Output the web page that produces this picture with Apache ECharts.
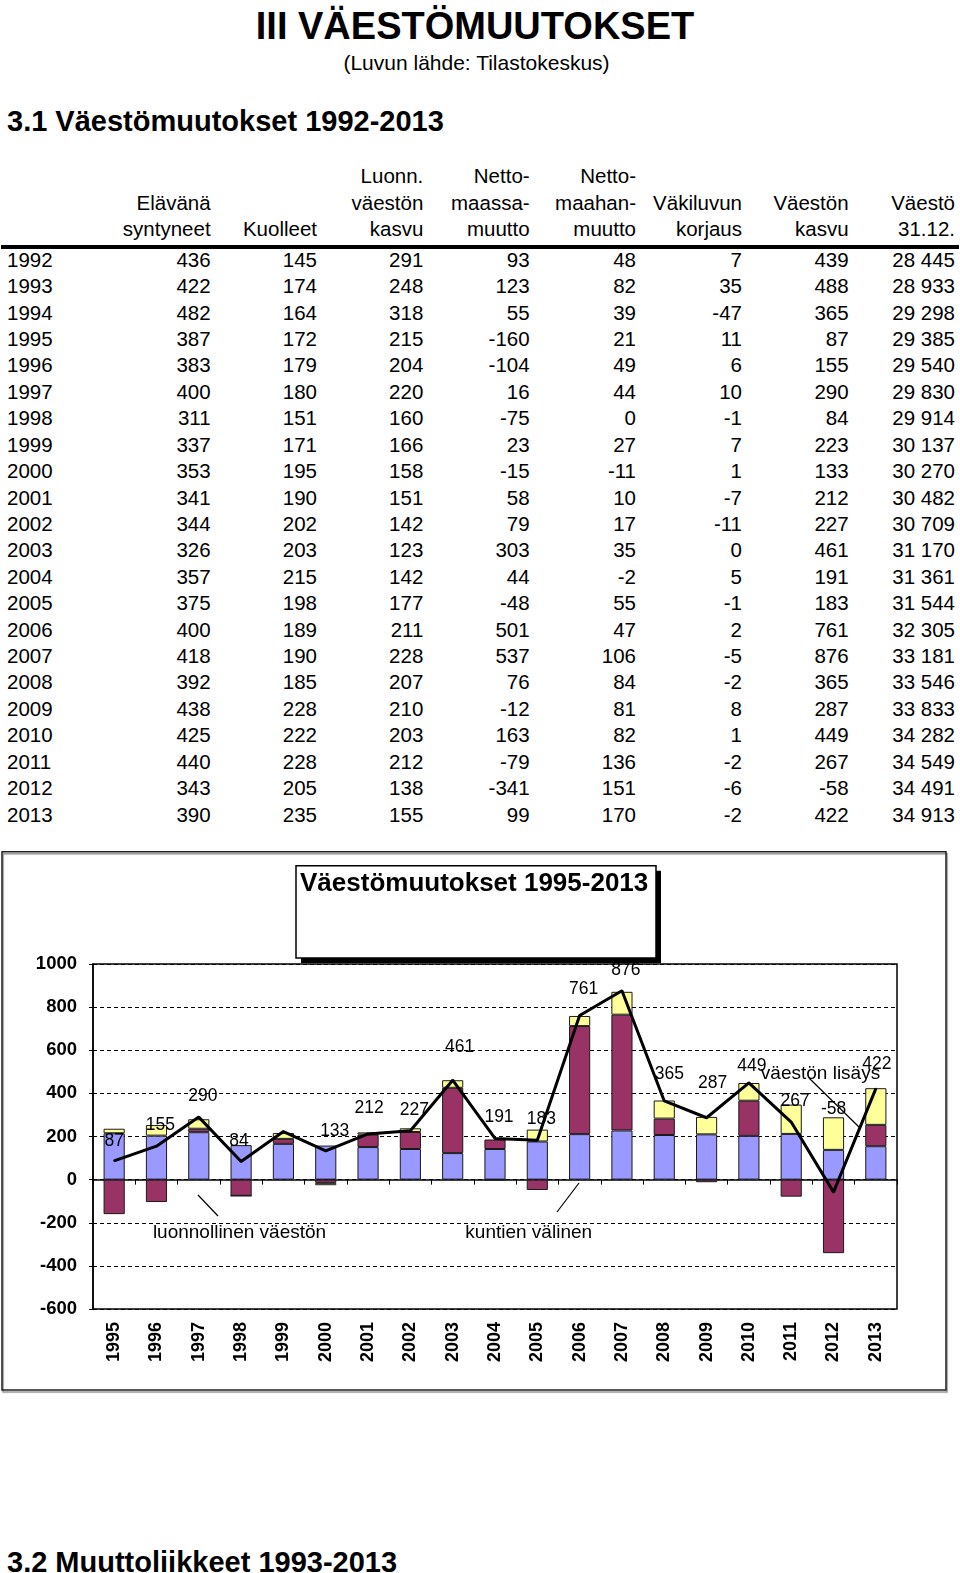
<!DOCTYPE html>
<html><head><meta charset="utf-8">
<script src="https://cdn.jsdelivr.net/npm/echarts@6/dist/echarts.min.js"></script>
<style>
html,body{margin:0;padding:0;background:#fff;}
body{position:relative;width:960px;height:1573px;overflow:hidden;font-family:"Liberation Sans",Arial,sans-serif;color:#000;}
.t{position:absolute;white-space:nowrap;line-height:1;}
</style></head><body>
<div id="chart" style="position:absolute;left:0;top:840px;width:960px;height:560px;"></div>
<script>
// ---- data ----
const years = [1992,1993,1994,1995,1996,1997,1998,1999,2000,2001,2002,2003,2004,2005,2006,2007,2008,2009,2010,2011,2012,2013];
const births = [436,422,482,387,383,400,311,337,353,341,344,326,357,375,400,418,392,438,425,440,343,390];
const deaths = [145,174,164,172,179,180,151,171,195,190,202,203,215,198,189,190,185,228,222,228,205,235];
const naturalGrowth = [291,248,318,215,204,220,160,166,158,151,142,123,142,177,211,228,207,210,203,212,138,155];
const netDomestic = [93,123,55,-160,-104,16,-75,23,-15,58,79,303,44,-48,501,537,76,-12,163,-79,-341,99];
const netImmigration = [48,82,39,21,49,44,0,27,-11,10,17,35,-2,55,47,106,84,81,82,136,151,170];
const correction = [7,35,-47,11,6,10,-1,7,1,-7,-11,0,5,-1,2,-5,-2,8,1,-2,-6,-2];
const popGrowth = [439,488,365,87,155,290,84,223,133,212,227,461,191,183,761,876,365,287,449,267,-58,422];
const population = [28445,28933,29298,29385,29540,29830,29914,30137,30270,30482,30709,31170,31361,31544,32305,33181,33546,33833,34282,34549,34491,34913];
const headers = [
  ["", "Elävänä", "syntyneet"],
  ["", "", "Kuolleet"],
  ["Luonn.", "väestön", "kasvu"],
  ["Netto-", "maassa-", "muutto"],
  ["Netto-", "maahan-", "muutto"],
  ["", "Väkiluvun", "korjaus"],
  ["", "Väestön", "kasvu"],
  ["", "Väestö", "31.12."]
];
const chartStart = 1995;
const yTicks = {min:-600, max:1000, step:200};

// ---- page text ----
function put(text, x, yc, size, align, weight){
  const d = document.createElement('div');
  d.className = 't';
  d.textContent = text;
  d.style.fontSize = size + 'px';
  d.style.top = (yc - 0.49*size) + 'px';
  if (weight) d.style.fontWeight = weight;
  if (align === 'right') d.style.right = (960 - x) + 'px';
  else if (align === 'center') { d.style.left = x + 'px'; d.style.transform = 'translateX(-50%)'; }
  else d.style.left = x + 'px';
  document.body.appendChild(d);
}
put('III VÄESTÖMUUTOKSET', 475, 25.5, 38, 'center', 'bold');
put('(Luvun lähde: Tilastokeskus)', 476.5, 62, 21, 'center');
put('3.1 Väestömuutokset 1992-2013', 7, 121.5, 29, 'left', 'bold');
put('3.2 Muuttoliikkeet 1993-2013', 7, 1562, 29, 'left', 'bold');

const colRight = [210.6, 317, 423.3, 529.6, 636, 742, 848.6, 955];
const hdrY = [176.5, 202.6, 228.7];
headers.forEach((h, c) => h.forEach((s, r) => { if (s) put(s, colRight[c], hdrY[r], 20.5, 'right'); }));
const rule = document.createElement('div');
rule.style.cssText = 'position:absolute;left:1px;top:244.5px;width:958px;height:4px;background:#000;';
document.body.appendChild(rule);
const fmt = v => String(v).replace(/\B(?=(\d{3})+(?!\d))/g, ' ');
const cols = [births, deaths, naturalGrowth, netDomestic, netImmigration, correction, popGrowth, population];
years.forEach((y, i) => {
  const yc = 259.8 + i * 26.42;
  put(String(y), 7, yc, 20.5, 'left');
  cols.forEach((arr, c) => put(fmt(arr[i]), colRight[c], yc, 20.5, 'right'));
});

// ---- chart ----
const si = years.indexOf(chartStart);
const cats = years.slice(si).map(String);
const blue = naturalGrowth.slice(si);
const purple = netDomestic.slice(si);
const yellow = netImmigration.slice(si);
const total = popGrowth.slice(si);

// label nudges (style only)
const nudge = {'1995':[0,-8],'1998':[-2,-8],'1999':null,'2000':[9,-8],'2001':[1,-14],'2003':[7,-21],'2006':[4,-14],'2008':[5,-15],'2009':[6,-23],'2010':[3,-5],'2012':[0,-71],'2013':[1,-12]};
const lineData = total.map((v, i) => {
  const k = cats[i];
  const n = (k in nudge) ? nudge[k] : [4,-9];
  if (n === null) return {value: v, label: {show: false}};
  return {value: v, label: {offset: n}};
});

const FF = '"Liberation Sans", Arial, sans-serif';
const chart = echarts.init(document.getElementById('chart'), null, {renderer: 'canvas'});
const barBase = {type: 'bar', stack: 'total', barWidth: '50%', xAxisIndex: 0};
chart.setOption({
  animation: false,
  textStyle: {fontFamily: FF},
  grid: {left: 93, top: 124, width: 804, height: 345, show: true, borderColor: '#000', borderWidth: 1.5, backgroundColor: 'transparent'},
  xAxis: [
    {type: 'category', data: cats, position: 'bottom',
      axisLine: {show: false, onZero: false}, axisTick: {show: false},
      axisLabel: {rotate: 90, fontSize: 18, fontWeight: 'bold', color: '#000', margin: 13, fontFamily: FF}},
    {type: 'category', data: cats, position: 'top',
      axisLine: {show: true, onZero: true, lineStyle: {color: '#000', width: 1.5}},
      axisTick: {show: true, inside: true, length: 5, lineStyle: {color: '#000', width: 1}},
      axisLabel: {show: false}}
  ],
  yAxis: {type: 'value', min: yTicks.min, max: yTicks.max, interval: yTicks.step,
    axisLine: {show: true, lineStyle: {color: '#000', width: 1.5}},
    axisTick: {show: true, length: 4, lineStyle: {color: '#000'}},
    axisLabel: {fontSize: 18.5, fontWeight: 'bold', color: '#000', margin: 16, fontFamily: FF, formatter: v => String(v)},
    splitLine: {show: true, lineStyle: {type: [4, 3], color: '#000', width: 1}}},
  series: [
    Object.assign({}, barBase, {name: 'luonnollinen väestönkasvu', data: blue, itemStyle: {color: '#9999FF', borderColor: '#1a1a1a', borderWidth: 1}}),
    Object.assign({}, barBase, {name: 'kuntien välinen', data: purple, itemStyle: {color: '#993366', borderColor: '#1a1a1a', borderWidth: 1}}),
    Object.assign({}, barBase, {name: 'nettomaahanmuutto', data: yellow, itemStyle: {color: '#FFFF99', borderColor: '#1a1a1a', borderWidth: 1}}),
    {type: 'line', name: 'väestön lisäys', data: lineData, xAxisIndex: 0, z: 5,
      symbol: 'circle', symbolSize: 2, showSymbol: true,
      itemStyle: {color: '#000'}, lineStyle: {color: '#000', width: 3},
      label: {show: true, position: 'top', distance: 2, fontSize: 17.5, color: '#000', fontFamily: FF}}
  ],
  graphic: [
    {type: 'rect', z: -5, shape: {x: 2, y: 11.7, width: 944, height: 538.3},
      style: {fill: 'none', stroke: '#222', lineWidth: 1.5, shadowColor: 'rgba(0,0,0,0.45)', shadowOffsetX: 1, shadowOffsetY: 2, shadowBlur: 1}},
    {type: 'rect', z: 9, shape: {x: 301, y: 30.7, width: 360, height: 92.3}, style: {fill: '#000', stroke: 'none'}},
    {type: 'rect', z: 10, shape: {x: 296, y: 25.7, width: 360, height: 92.3},
      style: {fill: '#fff', stroke: '#000', lineWidth: 1.5}},
    {type: 'text', z: 11, style: {text: 'Väestömuutokset 1995-2013', x: 300, y: 44, font: 'bold 26px ' + FF, fill: '#000', textVerticalAlign: 'middle'}},
    {type: 'text', z: 20, style: {text: 'luonnollinen väestön', x: 239.5, y: 393, font: '19px ' + FF, fill: '#000', textAlign: 'center', textVerticalAlign: 'middle'}},
    {type: 'line', z: 20, shape: {x1: 198, y1: 355, x2: 218, y2: 376}, style: {stroke: '#000', lineWidth: 1.2}},
    {type: 'text', z: 20, style: {text: 'kuntien välinen', x: 528.7, y: 393, font: '19px ' + FF, fill: '#000', textAlign: 'center', textVerticalAlign: 'middle'}},
    {type: 'line', z: 20, shape: {x1: 579, y1: 343, x2: 557, y2: 372}, style: {stroke: '#000', lineWidth: 1.2}},
    {type: 'text', z: 20, style: {text: 'väestön lisäys', x: 820.5, y: 234, font: '19px ' + FF, fill: '#000', textAlign: 'center', textVerticalAlign: 'middle'}},
    {type: 'line', z: 20, shape: {x1: 809, y1: 238, x2: 860, y2: 288}, style: {stroke: '#000', lineWidth: 1.2}}
  ]
});
</script>
</body></html>
